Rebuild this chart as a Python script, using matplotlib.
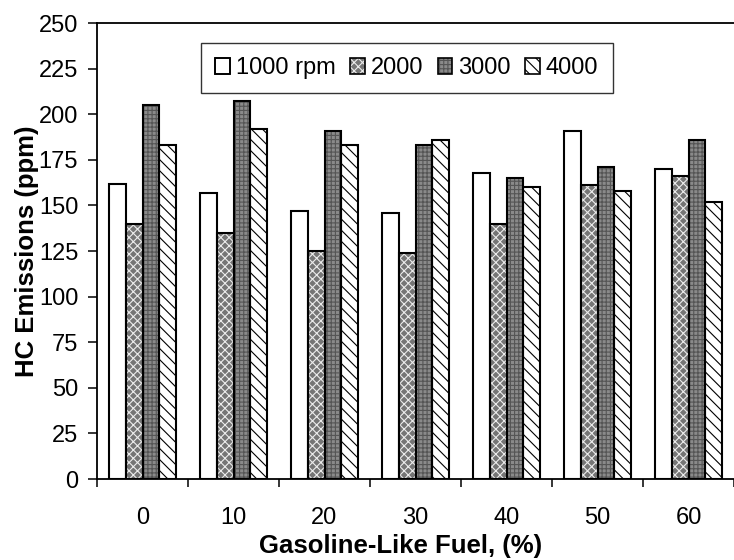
import matplotlib
matplotlib.use("Agg")
import matplotlib.pyplot as plt
import numpy as np
from matplotlib.patches import Patch
from matplotlib.legend_handler import HandlerTuple

categories = ["0", "10", "20", "30", "40", "50", "60"]
series_names = ["1000 rpm", "2000", "3000", "4000"]
rpm1000 = [162, 157, 147, 146, 168, 191, 170]
rpm2000 = [140, 135, 125, 124, 140, 161, 166]
rpm3000 = [205, 207, 191, 183, 165, 171, 186]
rpm4000 = [183, 192, 183, 186, 160, 158, 152]
yticks = [0, 25, 50, 75, 100, 125, 150, 175, 200, 225, 250]

plt.rcParams['font.family'] = ['Liberation Sans', 'DejaVu Sans']
plt.rcParams['hatch.linewidth'] = 0.8

W, H = 734, 560
fig = plt.figure(figsize=(W / 100, H / 100), dpi=100)
ax = fig.add_axes([97 / W, 1 - 479 / H, (734 - 97) / W, (479 - 23) / H])

styles = [
    dict(face="white", hatch=None, hcol="black"),
    dict(face="#757575", hatch="xxxx", hcol="#ececec"),
    dict(face="#8a8a8a", hatch="++++", hcol="#555555"),
    dict(face="white", hatch="\\\\\\", hcol="black"),
]

x = np.arange(len(categories))
bw = 0.186
all_series = [rpm1000, rpm2000, rpm3000, rpm4000]
handles = []
for i, (vals, st) in enumerate(zip(all_series, styles)):
    pos = x + (i - 1.5) * bw
    ax.bar(pos, vals, width=bw, color=st["face"], hatch=st["hatch"],
           edgecolor=st["hcol"], linewidth=0, zorder=2)
    ax.bar(pos, vals, width=bw, fill=False, edgecolor="black",
           linewidth=1.5, zorder=3)
    handles.append(Patch(facecolor=st["face"], hatch=st["hatch"],
                         edgecolor=st["hcol"] if st["hatch"] else "black",
                         linewidth=0 if st["hatch"] else 1.2))

outline = [Patch(facecolor="none", edgecolor="black", linewidth=1.2) for _ in range(4)]
leg_handles = [(h, o) for h, o in zip(handles, outline)]
leg = fig.legend(leg_handles, series_names, loc="upper left",
                 bbox_to_anchor=(201 / W, 1 - 43 / H), bbox_transform=fig.transFigure,
                 ncol=4, fontsize=17, frameon=True, fancybox=False,
                 handlelength=0.62, handleheight=0.62, handletextpad=0.25,
                 columnspacing=0.62, borderpad=0.6, borderaxespad=0,
                 handler_map={tuple: HandlerTuple(ndivide=1, pad=0)})
leg.get_frame().set_edgecolor("black")
leg.get_frame().set_linewidth(1.0)

ax.set_xlim(-0.5, len(categories) - 0.5)
ax.set_ylim(0, 250)
ax.set_yticks(yticks)
ax.set_xticks(np.arange(len(categories) + 1) - 0.5)
ax.set_xticklabels([])
ax.set_xticks(x, minor=True)
ax.set_xticklabels(categories, minor=True)
ax.tick_params(axis="x", which="major", direction="out", length=6, width=1.1)
ax.tick_params(axis="x", which="minor", length=0, pad=20, labelsize=17)
ax.tick_params(axis="y", direction="out", length=6.5, width=1.1, pad=7, labelsize=17)

for s in ["left", "bottom", "top"]:
    ax.spines[s].set_linewidth(1.3)
ax.spines["right"].set_visible(False)

ax.set_ylabel("HC Emissions (ppm)", fontsize=18.5, fontweight="bold", labelpad=0)
ax.set_xlabel("Gasoline-Like Fuel, (%)", fontsize=18.5, fontweight="bold", labelpad=4)
ax.xaxis.label.set_x((401 - 97) / (734 - 97))

fig.savefig("out.png", dpi=100)
